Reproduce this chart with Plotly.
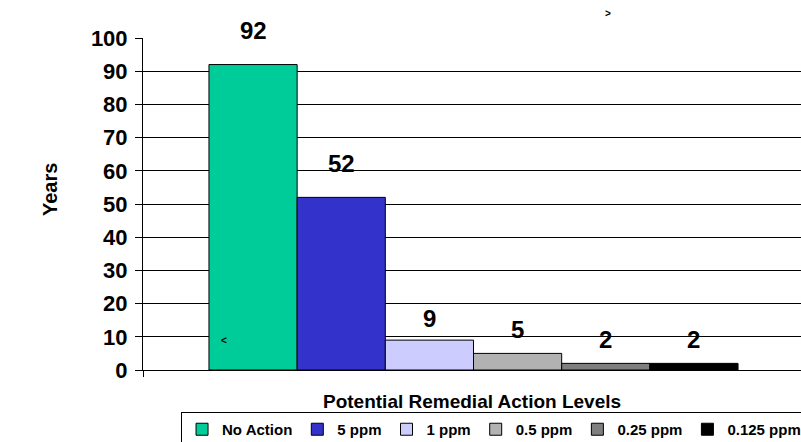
import plotly.graph_objects as go

# ---- data ----
series = ["No Action", "5 ppm", "1 ppm", "0.5 ppm", "0.25 ppm", "0.125 ppm"]
years = [92, 52, 9, 5, 2, 2]
y_ticks = [0, 10, 20, 30, 40, 50, 60, 70, 80, 90, 100]

# ---- styles ----
colors = ["#00CC99", "#3333CC", "#CCCCFF", "#B2B2B2", "#7F7F7F", "#000000"]
label_shift = [34, 34, 22, 24, 24, 24]
FONT = "Liberation Sans, Arial, sans-serif"

fig = go.Figure()
for i, (name, val, col) in enumerate(zip(series, years, colors)):
    fig.add_trace(go.Bar(
        x=[i], y=[val], name=name, width=1,
        marker=dict(color=col, line=dict(color="black", width=1)),
        hoverinfo="name+y",
    ))
    fig.add_annotation(
        x=i, y=val, xref="x", yref="y", text=f"<b>{val}</b>",
        showarrow=False, yanchor="middle", yshift=label_shift[i],
        font=dict(family=FONT, size=24, color="black"),
    )

x_range = [-1.248, 6.214]

fig.update_layout(
    width=801, height=442,
    margin=dict(l=143, r=0, t=38, b=72, autoexpand=False),
    paper_bgcolor="white", plot_bgcolor="white",
    barmode="overlay",
    font=dict(family=FONT, color="black"),
    showlegend=True,
    legend=dict(
        orientation="h", x=0.0578, y=-0.1265, xanchor="left", yanchor="top",
        bordercolor="black", borderwidth=1,
        font=dict(family=FONT, size=15, color="black", weight="bold"),
        traceorder="normal", itemclick=False,
    ),
    xaxis=dict(
        range=x_range, showgrid=False, zeroline=False,
        showline=True, linecolor="black", linewidth=1,
        showticklabels=False, ticks="outside", ticklen=6, tickcolor="black",
        tickvals=[x_range[0]], fixedrange=True,
    ),
    yaxis=dict(
        range=[0, 100], tickvals=y_ticks, ticks="outside", ticklen=7,
        tickcolor="black", showline=True, linecolor="black", linewidth=1,
        showgrid=True, gridcolor="black", gridwidth=1, zeroline=False,
        tickfont=dict(family=FONT, size=22, color="black", weight="bold"),
        ticklabelstandoff=3, fixedrange=True,
    ),
)

# axis titles
fig.add_annotation(
    text="<b>Potential Remedial Action Levels</b>", xref="paper", yref="paper",
    x=0.5, y=-0.0934, showarrow=False, xanchor="center", yanchor="middle",
    font=dict(family=FONT, size=19, color="black"),
)
fig.add_annotation(
    text="<b>Years</b>", xref="paper", yref="paper",
    x=-0.1413, y=0.542, showarrow=False, textangle=-90,
    xanchor="center", yanchor="middle",
    font=dict(family=FONT, size=20, color="black"),
)
# stray marks present in the original graphic
fig.add_annotation(
    text="<b>&lt;</b>", xref="paper", yref="paper", x=0.123, y=0.088,
    xanchor="center", yanchor="middle",
    showarrow=False, font=dict(family=FONT, size=10, color="black"),
)
fig.add_annotation(
    text="<b>&gt;</b>", xref="paper", yref="paper", x=0.7067, y=1.0744,
    xanchor="center", yanchor="middle",
    showarrow=False, font=dict(family=FONT, size=10, color="black"),
)

fig.write_html("out.html", config={"displayModeBar": False})
